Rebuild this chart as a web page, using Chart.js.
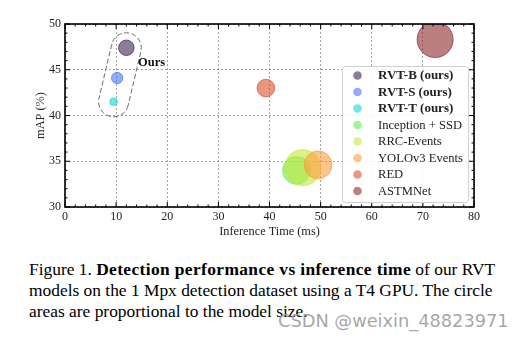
<!DOCTYPE html>
<html>
<head>
<meta charset="utf-8">
<script src="https://cdn.jsdelivr.net/npm/chart.js@4"></script>
<style>
  html, body { margin: 0; padding: 0; background: #fff; }
  #wrap { position: relative; width: 527px; height: 340px; overflow: hidden; }
  #chartBox { position: absolute; left: 0; top: 0; width: 527px; height: 245px; }
  #cap { position: absolute; left: 29px; top: 259px; width: 498px; font-family: "Liberation Serif", serif;
         font-size: 17.4px; line-height: 21px; color: #000; white-space: nowrap; }
  #cap b { letter-spacing: 0.38px; }
  #mark { position: absolute; left: 278px; top: 310px; font-family: "DejaVu Sans", sans-serif;
          font-size: 17.8px; color: rgba(150,150,150,0.85); white-space: nowrap; }
</style>
</head>
<body>
<div id="wrap">
  <div id="chartBox"><canvas id="myChart"></canvas></div>
  <div id="cap">Figure 1. <b>Detection performance vs inference time</b> of our RVT<br>models on the 1 Mpx detection dataset using a T4 GPU. The circle<br>areas are proportional to the model size.</div>
  <div id="mark">CSDN @weixin_48823971</div>
</div>
<script>
// values
const models = ['RVT-B (ours)', 'RVT-S (ours)', 'RVT-T (ours)', 'Inception + SSD', 'RRC-Events', 'YOLOv3 Events', 'RED', 'ASTMNet'];
const inferenceMs = [12.0, 10.2, 9.5, 45.3, 46.5, 49.5, 39.3, 72.4];
const mapValues = [47.4, 44.1, 41.5, 34.0, 34.3, 34.6, 43.0, 48.3];
const paramsM = [18.5, 9.9, 4.4, 60, 100, 60, 24.1, 100];   // model size (M params), circle area ~ size
const oursFlags = [true, true, true, false, false, false, false, false];
const xTicks = [0, 10, 20, 30, 40, 50, 60, 70, 80];
const yTicks = [30, 35, 40, 45, 50];

const colors = ['#3d2453', '#4a78f0', '#1ad2d6', '#5af05a', '#c6e63c', '#ff9c3c', '#dc4e2c', '#8c2a2a'];
const FONT = '"Liberation Serif", serif';

const hexA = (hex, a) => {
    let n = parseInt(hex.slice(1), 16);
    return 'rgba(' + (n >> 16) + ',' + ((n >> 8) & 255) + ',' + (n & 255) + ',' + a + ')';
};
const radiusFor = (size) => 1.8 * Math.sqrt(size);

const datasets = models.map((name, i) => ({
    label: name,
    data: [{ x: inferenceMs[i], y: mapValues[i], r: radiusFor(paramsM[i]) }],
    backgroundColor: hexA(colors[i], 0.6),
    borderColor: hexA(colors[i], 0.7),
    borderWidth: 1,
    hoverRadius: 0,
    order: models.length - i   // later models on top, like matplotlib
}));

// frame + inward major/minor ticks on all four sides
const frameTicks = {
    id: 'frameTicks',
    afterDraw(chart) {
        const { ctx, chartArea: a, scales: { x, y } } = chart;
        ctx.save();
        ctx.strokeStyle = '#000';
        ctx.lineWidth = 1;
        for (let v = 0; v <= 80; v += 2) {
            let px = x.getPixelForValue(v);
            let len = v % 10 === 0 ? 5 : 2.5;
            ctx.beginPath();
            ctx.moveTo(px, a.bottom); ctx.lineTo(px, a.bottom - len);
            ctx.moveTo(px, a.top); ctx.lineTo(px, a.top + len);
            ctx.stroke();
        }
        for (let v = 30; v <= 50; v += 1) {
            let py = y.getPixelForValue(v);
            let len = v % 5 === 0 ? 5 : 2.5;
            ctx.beginPath();
            ctx.moveTo(a.left, py); ctx.lineTo(a.left + len, py);
            ctx.moveTo(a.right, py); ctx.lineTo(a.right - len, py);
            ctx.stroke();
        }
        ctx.lineWidth = 1.6;
        ctx.strokeRect(a.left, a.top, a.right - a.left, a.bottom - a.top);
        ctx.restore();
    }
};

// dashed outline round our models + label
const oursNote = {
    id: 'oursNote',
    afterDatasetsDraw(chart) {
        const { ctx, scales: { x, y } } = chart;
        let bx = x.getPixelForValue(inferenceMs[0]), by = y.getPixelForValue(mapValues[0]);
        let tx = x.getPixelForValue(inferenceMs[2]), ty = y.getPixelForValue(mapValues[2]);
        let len = Math.hypot(bx - tx, by - ty);
        let ang = Math.atan2(by - ty, bx - tx);
        let r = 15;
        ctx.save();
        ctx.translate(tx, ty);
        ctx.rotate(ang);
        ctx.beginPath();
        ctx.arc(0, 0, r, Math.PI / 2, Math.PI * 1.5);
        ctx.lineTo(len, -r);
        ctx.arc(len, 0, r, -Math.PI / 2, Math.PI / 2);
        ctx.closePath();
        ctx.setLineDash([5, 2.5]);
        ctx.strokeStyle = '#6a6a6a';
        ctx.lineWidth = 0.9;
        ctx.stroke();
        ctx.restore();

        ctx.save();
        ctx.font = 'bold 12.5px ' + FONT;
        ctx.fillStyle = '#111';
        ctx.textBaseline = 'middle';
        ctx.fillText('Ours', x.getPixelForValue(14.3), y.getPixelForValue(45.8));
        ctx.restore();
    }
};

// legend box drawn by hand so the "ours" entries can be bold
const legendBox = {
    id: 'legendBox',
    afterDraw(chart) {
        const ctx = chart.ctx;
        let bx = 342, by = 66, bw = 126, bh = 136;
        ctx.save();
        ctx.beginPath();
        ctx.roundRect(bx + 0.5, by + 0.5, bw, bh, 3);
        ctx.fillStyle = 'rgba(255,255,255,0.85)';
        ctx.fill();
        ctx.strokeStyle = '#d0d0d0';
        ctx.lineWidth = 1;
        ctx.stroke();
        chart.data.datasets.forEach((ds, i) => {
            let rowY = 75.5 + i * 16.5;
            ctx.beginPath();
            ctx.arc(357.5, rowY, 4.3, 0, Math.PI * 2);
            ctx.fillStyle = ds.backgroundColor;
            ctx.fill();
            ctx.font = (oursFlags[i] ? 'bold 13px ' : '12.6px ') + FONT;
            ctx.fillStyle = '#222';
            ctx.textBaseline = 'middle';
            ctx.fillText(ds.label, 378, rowY + 0.5);
        });
        ctx.restore();
    }
};

const ctx = document.getElementById('myChart');
new Chart(ctx, {
    type: 'bubble',
    data: { datasets: datasets },
    plugins: [oursNote, frameTicks, legendBox],
    options: {
        responsive: true,
        maintainAspectRatio: false,
        animation: false,
        events: [],
        layout: { padding: { left: 33, right: 53, top: 24, bottom: 6 } },
        plugins: { legend: { display: false }, tooltip: { enabled: false } },
        scales: {
            x: {
                type: 'linear', min: 0, max: 80,
                afterBuildTicks: (s) => { s.ticks = xTicks.map(v => ({ value: v })); },
                afterFit: (s) => { s.height = 32; },
                grid: { color: '#8a8a8a', lineWidth: 0.8, drawTicks: false },
                border: { display: false, dash: [2, 2] },
                ticks: { padding: 3, color: '#222', font: { family: FONT, size: 12 } },
                title: { display: true, text: 'Inference Time (ms)', color: '#222', padding: 0,
                         font: { family: FONT, size: 12.3 } }
            },
            y: {
                type: 'linear', min: 30, max: 50,
                afterBuildTicks: (s) => { s.ticks = yTicks.map(v => ({ value: v })); },
                afterFit: (s) => { s.width = 32; },
                grid: { color: '#8a8a8a', lineWidth: 0.8, drawTicks: false },
                border: { display: false, dash: [2, 2] },
                ticks: { padding: 4, color: '#222', font: { family: FONT, size: 12 } },
                title: { display: true, text: 'mAP (%)', color: '#222', padding: 0,
                         font: { family: FONT, size: 12.3 } }
            }
        }
    }
});
</script>
</body>
</html>
